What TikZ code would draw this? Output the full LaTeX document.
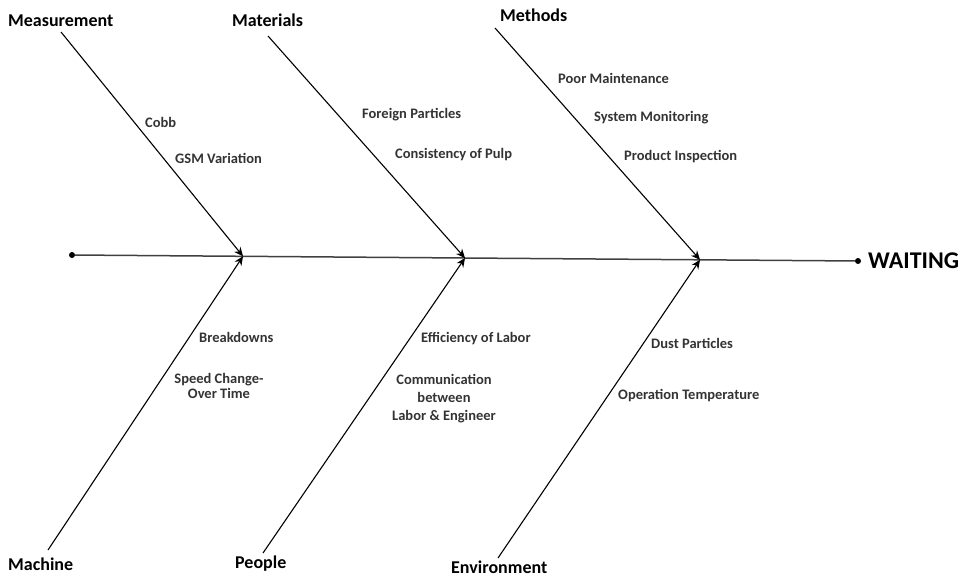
\documentclass[tikz,border=0pt]{standalone}
\usepackage{fontspec}
\setmainfont{Carlito}
\usetikzlibrary{arrows.meta,positioning}
\tikzset{
  >={Stealth[length=9pt,width=8pt]},
  cause/.style ={font=\fontsize{18}{20}\selectfont\bfseries,inner sep=0pt,anchor=base west},
  sub/.style   ={font=\fontsize{14.5}{15}\selectfont\bfseries,text=black!80,inner sep=0pt,anchor=base west},
  submulti/.style={font=\fontsize{14.5}{15}\selectfont\bfseries,text=black!80,inner sep=0pt,align=center},
  effect/.style={font=\fontsize{24}{26}\selectfont\bfseries,inner sep=0pt,anchor=base west},
  rib/.style   ={->,draw=black,line width=1.1pt},
  spine/.style ={draw=black!75,line width=1.5pt},
  endpt/.style ={circle,fill=black,inner sep=0pt,minimum size=6pt},
}
\begin{document}
\begin{tikzpicture}[x=1pt,y=-1pt]
\useasboundingbox (0,0) rectangle (971,578);
% spine
\node[endpt] (tail) at (72,255) {};
\node[endpt] (head) at (858,261) {};
\node[effect] (waiting) at (868,268) {WAITING};
\draw[spine] (tail) -- (head);
\coordinate (j1) at (243,256.3);
\coordinate (j2) at (465,258.0);
\coordinate (j3) at (700,259.8);
% upper causes
\node[cause] (meas) at (8,27) {Measurement};
\node[cause] (mat) at (232,27) {Materials};
\node[cause] (meth) at (500,22) {Methods};
\coordinate (meas-s) at (61,32);
\coordinate (mat-s) at (268,36);
\coordinate (meth-s) at (495,28);
\draw[rib] (meas-s) -- (j1);
\draw[rib] (mat-s) -- (j2);
\draw[rib] (meth-s) -- (j3);
% lower causes
\node[cause] (mach) at (8,570) {Machine};
\node[cause] (peop) at (235,568) {People};
\node[cause] (env) at (451,573) {Environment};
\coordinate (mach-s) at (48,550);
\coordinate (peop-s) at (263,553);
\coordinate (env-s) at (498,558);
\draw[rib] (mach-s) -- (j1);
\draw[rib] (peop-s) -- (j2);
\draw[rib] (env-s) -- (j3);
% sub causes
\node[sub] (cobb) at (145,127) {Cobb};
\node[sub] (gsm) at (175,163) {GSM Variation};
\node[sub] (foreign) at (362,118) {Foreign Particles};
\node[sub] (pulp) at (395,158) {Consistency of Pulp};
\node[sub] (maint) at (558,83) {Poor Maintenance};
\node[sub] (monit) at (594,121) {System Monitoring};
\node[sub] (insp) at (624,160) {Product Inspection};
\node[sub] (brk) at (199,342) {Breakdowns};
\node[submulti] (speed) at (219,386) {Speed Change-\\Over Time};
\node[sub] (eff) at (421,342) {Efficiency of Labor};
\node[submulti] (comm) at (444,399) {Communication\\[3pt]between\\[3pt]Labor \& Engineer};
\node[sub] (dust) at (651,348) {Dust Particles};
\node[sub] (temp) at (618,399) {Operation Temperature};
\end{tikzpicture}
\end{document}
